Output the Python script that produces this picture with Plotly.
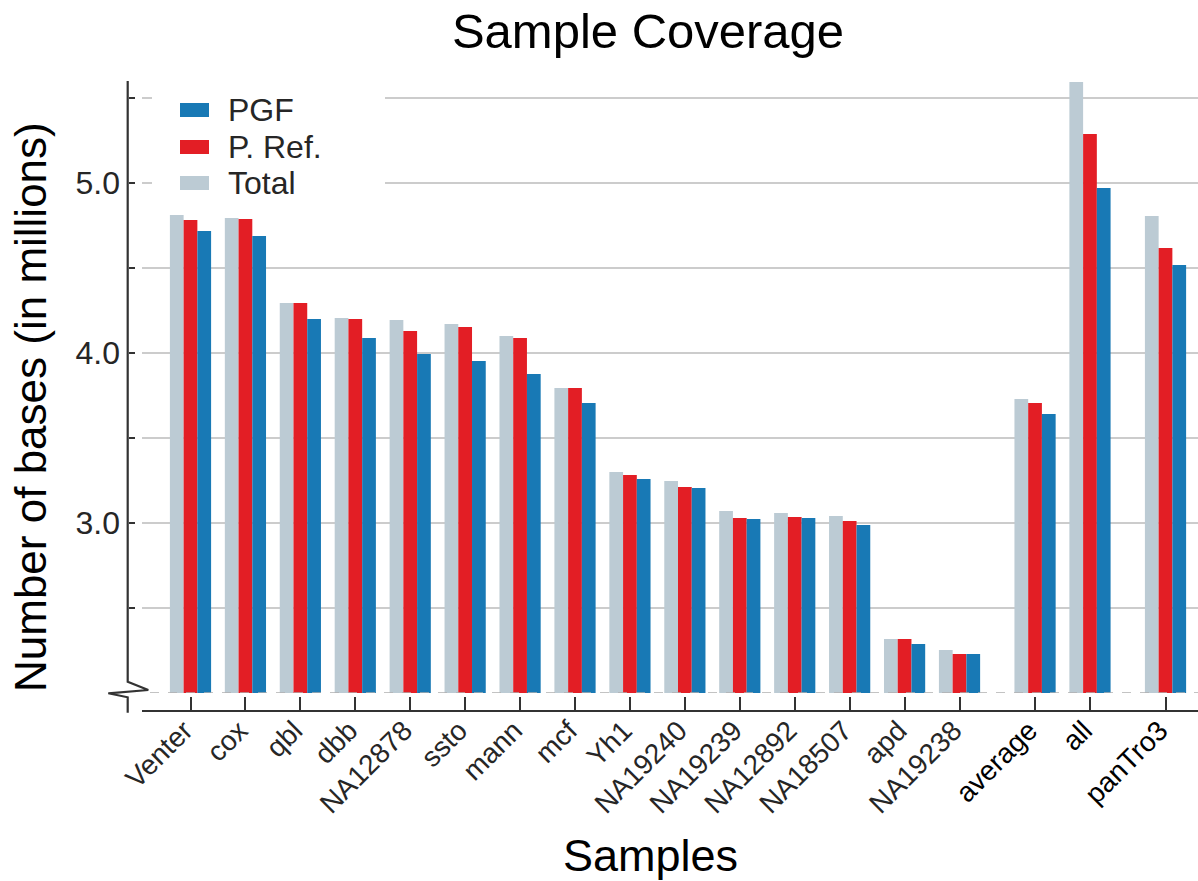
import plotly.graph_objects as go

# ---- data ----
samples = ["Venter", "cox", "qbl", "dbb", "NA12878", "ssto", "mann", "mcf", "Yh1",
           "NA19240", "NA19239", "NA12892", "NA18507", "apd", "NA19238",
           "average", "all", "panTro3"]
total = [4.812, 4.794, 4.294, 4.206, 4.194, 4.171, 4.100, 3.794, 3.300,
         3.247, 3.071, 3.059, 3.041, 2.318, 2.253, 3.729, 5.594, 4.806]
pref = [4.782, 4.788, 4.294, 4.200, 4.129, 4.153, 4.088, 3.794, 3.282,
        3.212, 3.029, 3.035, 3.012, 2.318, 2.229, 3.706, 5.288, 4.618]
pgf = [4.718, 4.688, 4.200, 4.088, 3.994, 3.953, 3.876, 3.706, 3.259,
       3.206, 3.024, 3.029, 2.988, 2.288, 2.229, 3.641, 4.971, 4.518]
y_tick_vals = [2.5, 3.0, 3.5, 4.0, 4.5, 5.0, 5.5]
y_tick_text = ["", "3.0", "", "4.0", "", "5.0", ""]
highlight = {"average", "all", "panTro3"}

# ---- layout helpers ----
# the page body margin is removed (see post_script), so figure pixels == page pixels
W, H = 1198, 881
OFF = 0
PL, PR, PT, PB = 128, 1198, 81, 711          # paper box in page pixels
ML, MR, MT, MB = PL - OFF, W - (PR - OFF), PT - OFF, H - (PB - OFF)
PW, PH = PR - PL, PB - PT

def px(x):
    return (x - PL) / PW
def py(y):
    return (PB - y) / PH
def cx(x):
    return (x - OFF) / W
def cy(y):
    return (H - (y - OFF)) / H

# group positions: regular spacing, extra gaps before "average" and "panTro3"
xpos = []
cur = 0.0
for i, s in enumerate(samples):
    if i > 0:
        cur += 1.375 if s in ("average", "panTro3") else 1.0
    xpos.append(cur)

unit = 54.93      # pixels per x unit
x0px = 190.5      # pixel of first group
xr = [(142 - x0px) / unit, (1198 - x0px) / unit]

GRAY, RED, BLUE = "#bccbd4", "#e31e25", "#1879b5"
FONT = "Liberation Sans, Arial, Helvetica, sans-serif"
TXT = "#262626"

fig = go.Figure()
for name, vals, col, off in [("Total", total, GRAY, -0.375),
                             ("P. Ref.", pref, RED, -0.125),
                             ("PGF", pgf, BLUE, 0.125)]:
    fig.add_trace(go.Bar(x=xpos, y=vals, name=name, marker=dict(color=col, line=dict(width=0)),
                         width=0.25, offset=off, showlegend=False))

ticktext = [f"<span style='color:#000'>{s}</span>" if s in highlight else s for s in samples]

fig.update_layout(
    width=W, height=H,
    margin=dict(l=ML, r=MR, t=MT, b=MB, autoexpand=False),
    paper_bgcolor="white", plot_bgcolor="white",
    barmode="overlay",
    font=dict(family=FONT, color=TXT),
    xaxis=dict(domain=[px(142), 1.0], range=xr, anchor="free", position=0,
               automargin=False,
               showline=True, linewidth=2, linecolor="#333",
               ticks="inside", ticklen=13, tickwidth=2, tickcolor="#333",
               tickvals=xpos, ticktext=ticktext, tickangle=-45,
               ticklabelshift=-6, ticklabelstandoff=-9,
               tickfont=dict(size=28, color=TXT, family=FONT),
               showgrid=False, zeroline=False),
    yaxis=dict(domain=[py(693), 1.0], range=[2.0, 5.6], anchor="free", position=0,
               automargin=False,
               showline=False, ticks="inside", ticklen=6, tickwidth=2, tickcolor="#333",
               tickvals=y_tick_vals, ticktext=y_tick_text,
               tickfont=dict(size=32, color=TXT, family=FONT), ticklabelstandoff=8,
               showgrid=True, gridcolor="#cccccc", gridwidth=1.5, zeroline=False),
    title=dict(text="Sample Coverage", x=cx(648), xanchor="center", xref="container",
               y=cy(31), yanchor="middle", yref="container",
               font=dict(size=49, color="#000", family=FONT)),
)

shapes = []
# broken y axis line
pts = [(127.7, 81), (127.7, 681.7), (148.3, 690), (108.3, 693.3), (127.7, 697.3), (127.7, 712.7)]
path = "M " + " L ".join(f"{px(a):.5f},{py(b):.5f}" for a, b in pts)
shapes.append(dict(type="path", path=path, xref="paper", yref="paper",
                   line=dict(color="#333", width=2.2)))
# dashed baseline
shapes.append(dict(type="line", xref="paper", yref="y", x0=px(150), x1=1.0, y0=2.0, y1=2.0,
                   line=dict(color="#b0b0b0", width=1.5, dash="dash"), layer="above"))
# legend box
shapes.append(dict(type="rect", xref="paper", yref="paper", x0=px(152), x1=px(385),
                   y0=py(200), y1=py(86), fillcolor="white", line=dict(width=0), layer="above"))
annotations = []
for name, col, yc in [("PGF", BLUE, 110), ("P. Ref.", RED, 147), ("Total", GRAY, 183)]:
    shapes.append(dict(type="rect", xref="paper", yref="paper", x0=px(180), x1=px(209),
                       y0=py(yc + 7), y1=py(yc - 7), fillcolor=col, line=dict(width=0), layer="above"))
    annotations.append(dict(text=name, x=px(226), y=py(yc), xref="paper", yref="paper",
                            xanchor="left", yanchor="middle", showarrow=False,
                            font=dict(size=32, color=TXT, family=FONT)))
# axis titles
annotations.append(dict(text="Number of bases (in millions)", x=px(31), y=py(407),
                        xref="paper", yref="paper", textangle=-90, showarrow=False,
                        xanchor="center", yanchor="middle",
                        font=dict(size=44, color="#000", family=FONT)))
annotations.append(dict(text="Samples", x=px(650), y=py(855), xref="paper", yref="paper",
                        showarrow=False, xanchor="center", yanchor="middle",
                        font=dict(size=45, color="#000", family=FONT)))
fig.update_layout(shapes=shapes, annotations=annotations)

fig.write_html("out.html",
               config={"displayModeBar": False},
               post_script="document.body.style.margin='0';document.body.style.overflow='hidden';")
